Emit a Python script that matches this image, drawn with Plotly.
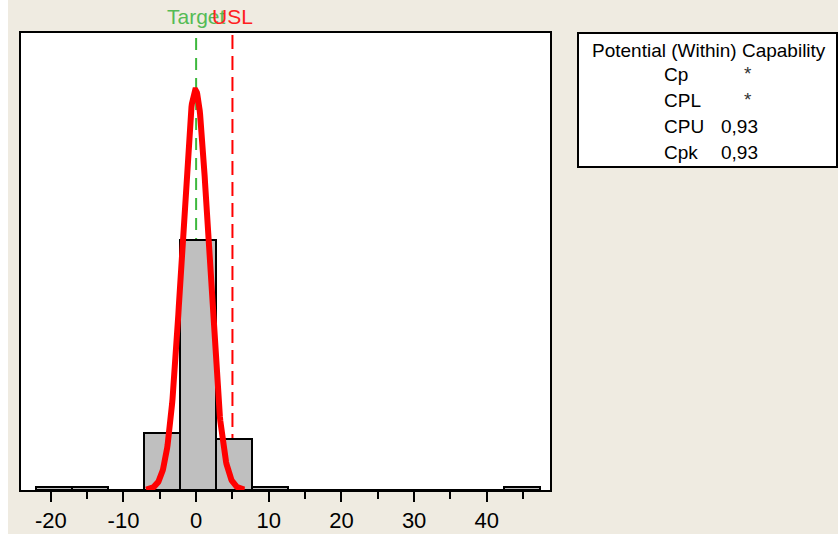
import numpy as np
import plotly.graph_objects as go

# ---- data ----
bin_start = -22.0
bin_width = 4.95
bin_counts = [1, 1, 0, 19, 83, 17, 1, 0, 0, 0, 0, 0, 0, 1]
process_mean = -0.1
sigma_within = 1.83
target = 0.0
usl = 5.0
x_ticks = [-20, -10, 0, 10, 20, 30, 40]
x_tick_labels = ["-20", "-10", "0", "10", "20", "30", "40"]
stat_labels = ["Cp", "CPL", "CPU", "Cpk"]
stat_values = ["*", "*", "0,93", "0,93"]
box_title = "Potential (Within) Capability"

# ---- derived ----
edges = bin_start + bin_width * np.arange(len(bin_counts) + 1)
mids = (edges[:-1] + edges[1:]) / 2
n_total = sum(bin_counts)
xc = np.linspace(process_mean - 3.7 * sigma_within, process_mean + 3.7 * sigma_within, 240)
yc = n_total * bin_width * np.exp(-0.5 * ((xc - process_mean) / sigma_within) ** 2) / (sigma_within * np.sqrt(2 * np.pi))

W, H = 838, 534
L, R, T, B = 21, 288, 33, 44
pw, ph = W - L - R, H - T - B

def px(x):
    return (x - L) / pw

def py(y):
    return 1 - (y - T) / ph

FONT = "Liberation Sans, Arial, sans-serif"

fig = go.Figure()
fig.add_trace(go.Bar(
    x=mids, y=bin_counts, width=bin_width,
    marker=dict(color="#BFBFBF", line=dict(color="black", width=2)),
    hoverinfo="skip", showlegend=False,
))
fig.add_trace(go.Scatter(
    x=xc, y=yc, mode="lines", line=dict(color="#FF0000", width=6),
    hoverinfo="skip", showlegend=False,
))

ymax = 151.7
fig.add_shape(type="line", xref="x", yref="y", x0=target, x1=target, y0=0, y1=ymax,
              line=dict(color="#3DB83D", width=2, dash="12px,8px"), layer="below")
fig.add_shape(type="line", xref="x", yref="y", x0=usl, x1=usl, y0=0, y1=ymax,
              line=dict(color="#FF0000", width=2, dash="14px,7px"), layer="below")

fig.add_annotation(x=target, xref="x", y=1, yref="paper", yanchor="bottom", xanchor="center", yshift=3,
                   text="Target", showarrow=False, font=dict(family=FONT, size=21, color="#55BB55"))
fig.add_annotation(x=usl, xref="x", y=1, yref="paper", yanchor="bottom", xanchor="center", yshift=3,
                   text="USL", showarrow=False, font=dict(family=FONT, size=21, color="#FF2020"))

# capability box
fig.add_shape(type="rect", xref="paper", yref="paper",
              x0=px(578), x1=px(837), y0=py(167), y1=py(33),
              line=dict(color="black", width=2), fillcolor="white")
fig.add_annotation(x=px(709), y=py(50), xref="paper", yref="paper", text=box_title,
                   xanchor="center", yanchor="middle",
                   showarrow=False, font=dict(family=FONT, size=19, color="black"))
row_y = [75, 101, 126, 152]
for lab, val, yy in zip(stat_labels, stat_values, row_y):
    fig.add_annotation(x=px(662), y=py(yy), xref="paper", yref="paper", text=lab,
                       xanchor="left", yanchor="middle",
                       showarrow=False, font=dict(family=FONT, size=19, color="black"))
    if val == "*":
        fig.add_annotation(x=px(748), y=py(yy - 2), xref="paper", yref="paper", text=val,
                           xanchor="center", yanchor="middle",
                           showarrow=False, font=dict(family=FONT, size=19, color="#333333"))
    else:
        fig.add_annotation(x=px(719), y=py(yy), xref="paper", yref="paper", text=val,
                           xanchor="left", yanchor="middle",
                           showarrow=False, font=dict(family=FONT, size=19, color="black"))

# white strip at far left
fig.add_shape(type="rect", xref="paper", yref="paper", x0=px(0), x1=px(8), y0=py(H), y1=py(0),
              line=dict(width=0), fillcolor="white", layer="below")

fig.update_layout(
    width=W, height=H, margin=dict(l=L, r=R, t=T, b=B, autoexpand=False),
    paper_bgcolor="#EFEBE1", plot_bgcolor="white",
    bargap=0, showlegend=False,
    font=dict(family=FONT, size=22, color="black"),
)
fig.update_xaxes(range=[-24.1, 48.7], tickmode="array", tickvals=x_ticks, ticktext=x_tick_labels,
                 ticks="outside", ticklen=10, tickwidth=2, tickcolor="black",
                 minor=dict(dtick=5, tick0=0, ticks="outside", ticklen=7, tickwidth=2, tickcolor="black"),
                 showline=True, linecolor="black", linewidth=2, mirror=True,
                 showgrid=False, zeroline=False, tickfont=dict(size=22))
fig.update_yaxes(range=[0, ymax], showticklabels=False, ticks="",
                 showline=True, linecolor="black", linewidth=2, mirror=True,
                 showgrid=False, zeroline=False)

fig.write_html("out.html", config={"displayModeBar": False},
               post_script="document.body.style.margin='0px';")
